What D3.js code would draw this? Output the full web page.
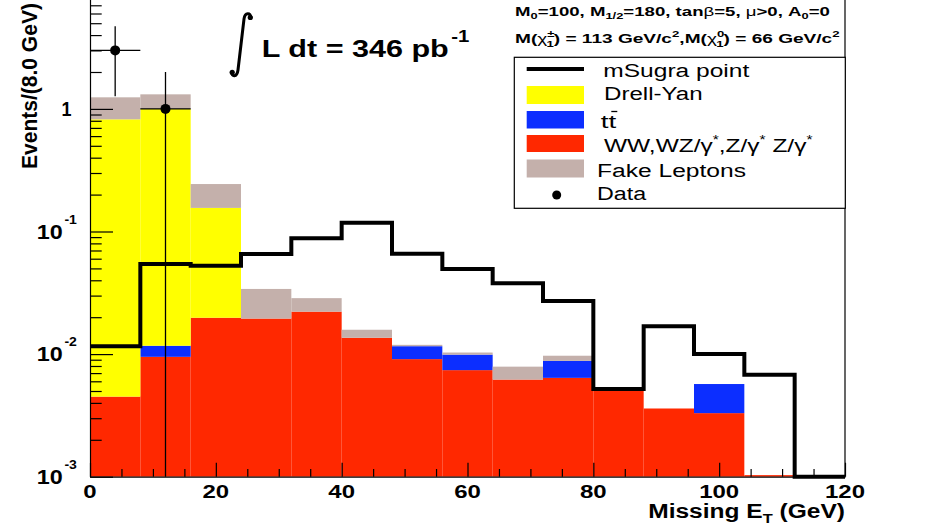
<!DOCTYPE html>
<html><head><meta charset="utf-8">
<script src="https://cdn.jsdelivr.net/npm/d3@7"></script>
<style>html,body{margin:0;padding:0;background:#fff;overflow:hidden}</style>
</head><body>
<svg id="c" width="926" height="526" xmlns="http://www.w3.org/2000/svg"></svg>
<script>
// ---------------- data ----------------
const binLow   = [0, 8, 16, 24, 32, 40, 48, 56, 64, 72, 80, 88, 96, 104, 112];
const binWidth = 8;
const diboson  = [0.0045, 0.0095, 0.0198, 0.0195, 0.0222, 0.0136, 0.0091, 0.0074, 0.0062, 0.0064, 0.0050, 0.0036, 0.0033, 0.00103, 0];
const ttbar    = [0, 0.0022, 0, 0, 0, 0, 0.0025, 0.0025, 0, 0.0024, 0, 0, 0.0024, 0, 0];
const drellYan = [0.8175, 0.986, 0.136, 0, 0, 0, 0, 0, 0, 0, 0, 0, 0, 0, 0];
const fakes    = [0.421, 0.317, 0.088, 0.0145, 0.0064, 0.0022, 0.0003, 0.0004, 0.0017, 0.0009, 0, 0, 0, 0, 0];
const msugra   = [0.0116, 0.0543, 0.0526, 0.0655, 0.088, 0.118, 0.0657, 0.0494, 0.0378, 0.0271, 0.0052, 0.0169, 0.0100, 0.0068, 0];
const dataCounts = [3, 1, 0, 0, 0, 0, 0, 0, 0, 0, 0, 0, 0, 0, 0];
const xTickValues = [0, 20, 40, 60, 80, 100, 120];
const yTickExponents = [-3, -2, -1, 0];
const legendLabels = ["mSugra point", "Drell-Yan", "tt", "WW,WZ/γ*,Z/γ* Z/γ*", "Fake Leptons", "Data"];

const COLORS = {diboson: "#ff2800", ttbar: "#0c2eff", dy: "#ffff00", fake: "#c4b0ab"};
const FONT = "'Liberation Sans', Arial, Helvetica, sans-serif";
const K = 1.29; // horizontal stretch of reference fonts

const svg = d3.select("#c");
const x = d3.scaleLinear().domain([0, 120]).range([90, 845]);
const y = d3.scaleLog().domain([1e-3, 10]).range([476.7, 476.7 - 4 * 122.6]).clamp(true);
const yv = v => y(Math.max(v, 1e-3));

// ---------------- helper for stretched text ----------------
function stext(parent, px, py, opts, build) {
  const g = parent.append("g");
  const t = g.append("text")
    .attr("font-family", FONT)
    .attr("font-size", opts.fs)
    .attr("font-weight", opts.bold ? "bold" : "normal")
    .attr("text-anchor", opts.anchor || "start")
    .attr("fill", "#000");
  build(t);
  let k = opts.k || K;
  if (opts.width) { const w = t.node().getBBox().width; k = opts.width / w; }
  g.attr("transform", `translate(${px},${py}) ${opts.rotate ? "rotate(" + opts.rotate + ")" : ""} scale(${k},1)`);
  return g;
}

// ---------------- stacked histograms ----------------
const layers = [
  {values: diboson, color: COLORS.diboson},
  {values: ttbar, color: COLORS.ttbar},
  {values: drellYan, color: COLORS.dy},
  {values: fakes, color: COLORS.fake}
];
const gStack = svg.append("g");
let cum = binLow.map(() => 0);
layers.forEach(L => {
  const lo = cum.slice();
  cum = cum.map((c, i) => c + L.values[i]);
  const rows = binLow.map((b, i) => ({b, lo: lo[i], hi: cum[i]})).filter(d => d.hi > d.lo);
  gStack.selectAll(null).data(rows).join("rect")
    .attr("x", d => x(d.b))
    .attr("width", x(binWidth) - x(0))
    .attr("y", d => yv(d.hi))
    .attr("height", d => Math.max(yv(d.lo) - yv(d.hi), 1.2))
    .attr("fill", L.color);
});

// ---------------- mSugra step line ----------------
let dPath = `M${x(binLow[0])},${yv(msugra[0])}`;
binLow.forEach((b, i) => {
  dPath += `H${x(b + binWidth)}`;
  if (i < binLow.length - 1) dPath += `V${yv(msugra[i + 1])}`;
});
svg.append("path").attr("d", dPath).attr("fill", "none").attr("stroke", "#000")
  .attr("stroke-width", 4).attr("stroke-linejoin", "miter");

// ---------------- data points ----------------
const pts = binLow.map((b, i) => ({b, n: dataCounts[i]})).filter(d => d.n > 0);
const gData = svg.append("g").attr("stroke", "#000").attr("stroke-width", 1.3);
pts.forEach(d => {
  const cx = x(d.b + binWidth / 2), e = Math.sqrt(d.n);
  gData.append("line").attr("x1", cx).attr("x2", cx).attr("y1", yv(d.n + e)).attr("y2", yv(d.n - e));
  gData.append("line").attr("x1", x(d.b)).attr("x2", x(d.b + binWidth)).attr("y1", y(d.n)).attr("y2", y(d.n));
  gData.append("circle").attr("cx", cx).attr("cy", y(d.n)).attr("r", 5).attr("fill", "#000").attr("stroke", "none");
});

// ---------------- axes ----------------
const y0 = y(1e-3);
function styleAxis(g) {
  g.selectAll(".domain").attr("stroke", "#000").attr("stroke-width", 1.2);
  g.selectAll(".tick line").attr("stroke", "#000").attr("stroke-width", 1.2);
  g.selectAll(".tick text").remove();
}
svg.append("g").attr("transform", `translate(0,${y0})`)
  .call(d3.axisBottom(x).tickValues(xTickValues).tickSize(-14).tickSizeOuter(0).tickFormat(""))
  .call(styleAxis);
svg.append("g").attr("transform", `translate(0,${y0})`)
  .call(d3.axisBottom(x).tickValues(d3.range(0, 121, 5).filter(v => v % 20)).tickSize(-7.7).tickSizeOuter(0).tickFormat(""))
  .call(styleAxis).call(g => g.select(".domain").remove());
const yMajor = yTickExponents.map(e => Math.pow(10, e));
const yMinor = [];
yTickExponents.forEach(e => { for (let m = 2; m <= 9; m++) yMinor.push(m * Math.pow(10, e)); });
svg.append("g").attr("transform", `translate(${x(0)},0)`)
  .call(d3.axisLeft(y).tickValues(yMajor).tickSize(-23).tickSizeOuter(0).tickFormat(""))
  .call(styleAxis);
svg.append("g").attr("transform", `translate(${x(0)},0)`)
  .call(d3.axisLeft(y).tickValues(yMinor).tickSize(-11.7).tickSizeOuter(0).tickFormat(""))
  .call(styleAxis).call(g => g.select(".domain").remove());
// right frame line
svg.append("line").attr("x1", x(120)).attr("x2", x(120)).attr("y1", y(10)).attr("y2", y0)
  .attr("stroke", "#000").attr("stroke-width", 1.2);

// tick labels
xTickValues.forEach(v => {
  stext(svg, x(v), 498, {fs: 18.6, bold: true, anchor: "middle"}, t => t.text(v));
});
yTickExponents.forEach(e => {
  const yy = y(Math.pow(10, e)) + 7;
  if (e === 0) {
    stext(svg, 61.5, yy, {fs: 20, bold: true, width: 10}, t => t.text("1"));
  } else {
    stext(svg, 36.7, yy, {fs: 20, bold: true, width: 40.6}, t => {
      t.append("tspan").text("10");
      t.append("tspan").attr("dx", 1.5).attr("dy", -15).attr("font-size", 12).text("-" + (-e));
    });
  }
});

// axis titles
stext(svg, 845, 518, {fs: 19.5, bold: true, anchor: "end", width: 197}, t => {
  t.append("tspan").text("Missing E");
  t.append("tspan").attr("dy", 5).attr("font-size", 13).text("T");
  t.append("tspan").attr("dy", -5).text(" (GeV)");
});
stext(svg, 37, 169, {fs: 22, bold: true, rotate: -90, width: 166}, t => t.text("Events/(8.0 GeV)"));

// ---------------- luminosity label ----------------
svg.append("path")
  .attr("d", "M251,18 C250.5,12.5 245,12 244,19 L238,70 C237,77.5 231.5,77 231.5,72")
  .attr("fill", "none").attr("stroke", "#000").attr("stroke-width", 3);
svg.append("circle").attr("cx", 250.3).attr("cy", 17.5).attr("r", 2.6).attr("fill", "#000");
svg.append("circle").attr("cx", 232.2).attr("cy", 72.3).attr("r", 2.6).attr("fill", "#000");
stext(svg, 261.7, 56.7, {fs: 24, bold: true, width: 208}, t => {
  t.append("tspan").text("L dt = 346 pb");
  t.append("tspan").attr("dx", 2).attr("dy", -15).attr("font-size", 16).text("-1");
});

// ---------------- top-right parameter text ----------------
stext(svg, 515, 15.5, {fs: 13, bold: true, width: 315}, t => {
  t.append("tspan").text("M");
  t.append("tspan").attr("dy", 3).attr("font-size", 9).text("0");
  t.append("tspan").attr("dy", -3).text("=100, M");
  t.append("tspan").attr("dy", 3).attr("font-size", 9).text("1/2");
  t.append("tspan").attr("dy", -3).text("=180, tan");
  t.append("tspan").attr("font-weight", "normal").text("β");
  t.append("tspan").text("=5, ");
  t.append("tspan").attr("font-weight", "normal").text("μ");
  t.append("tspan").text(">0, A");
  t.append("tspan").attr("dy", 3).attr("font-size", 9).text("0");
  t.append("tspan").attr("dy", -3).text("=0");
});
stext(svg, 515, 42.7, {fs: 13, bold: true, width: 325}, t => {
  const chi = (sup) => {
    t.append("tspan").text("M(");
    t.append("tspan").attr("font-weight", "normal").text("χ");
    t.append("tspan").attr("dy", -6).attr("font-size", 9).text(sup);
    t.append("tspan").attr("dx", -5.5).attr("dy", 10).attr("font-size", 9).text("1");
    t.append("tspan").attr("dy", -4).text(")");
  };
  chi("±");
  t.append("tspan").text(" = 113 GeV/c");
  t.append("tspan").attr("dy", -6).attr("font-size", 9).text("2");
  t.append("tspan").attr("dy", 6).text(",");
  chi("0");
  t.append("tspan").text(" = 66 GeV/c");
  t.append("tspan").attr("dy", -6).attr("font-size", 9).text("2");
});

// ---------------- legend ----------------
const leg = svg.append("g");
leg.append("rect").attr("x", 514.3).attr("y", 57.3).attr("width", 331).attr("height", 151)
  .attr("fill", "#fff").attr("stroke", "#000").attr("stroke-width", 1.2);
leg.append("line").attr("x1", 526.7).attr("x2", 584).attr("y1", 69).attr("y2", 69)
  .attr("stroke", "#000").attr("stroke-width", 4);
const swatches = [
  {y: 86, h: 18, c: COLORS.dy},
  {y: 111, h: 17.5, c: COLORS.ttbar},
  {y: 135, h: 17, c: COLORS.diboson},
  {y: 159.5, h: 18, c: COLORS.fake}
];
swatches.forEach(s => leg.append("rect").attr("x", 526.7).attr("y", s.y).attr("width", 57.3).attr("height", s.h).attr("fill", s.c));
leg.append("circle").attr("cx", 556.7).attr("cy", 195).attr("r", 4.5).attr("fill", "#000");

stext(leg, 603.3, 76.7, {fs: 19, width: 147}, t => t.text(legendLabels[0]));
stext(leg, 604, 100, {fs: 19, width: 98.7}, t => t.text(legendLabels[1]));
stext(leg, 600.7, 128.3, {fs: 19, width: 16.5}, t => t.text(legendLabels[2]));
leg.append("line").attr("x1", 611.3).attr("x2", 617.3).attr("y1", 111.5).attr("y2", 111.5).attr("stroke", "#000").attr("stroke-width", 1.3);
stext(leg, 604, 151.7, {fs: 19, width: 209}, t => {
  t.append("tspan").text("WW,WZ/γ");
  t.append("tspan").attr("dy", -8).attr("font-size", 12).text("*");
  t.append("tspan").attr("dy", 8).text(",Z/γ");
  t.append("tspan").attr("dy", -8).attr("font-size", 12).text("*");
  t.append("tspan").attr("dy", 8).text(" Z/γ");
  t.append("tspan").attr("dy", -8).attr("font-size", 12).text("*");
});
stext(leg, 597, 176.7, {fs: 19, width: 149}, t => t.text(legendLabels[4]));
stext(leg, 597, 200, {fs: 19, width: 49.7}, t => t.text(legendLabels[5]));
</script>
</body></html>
